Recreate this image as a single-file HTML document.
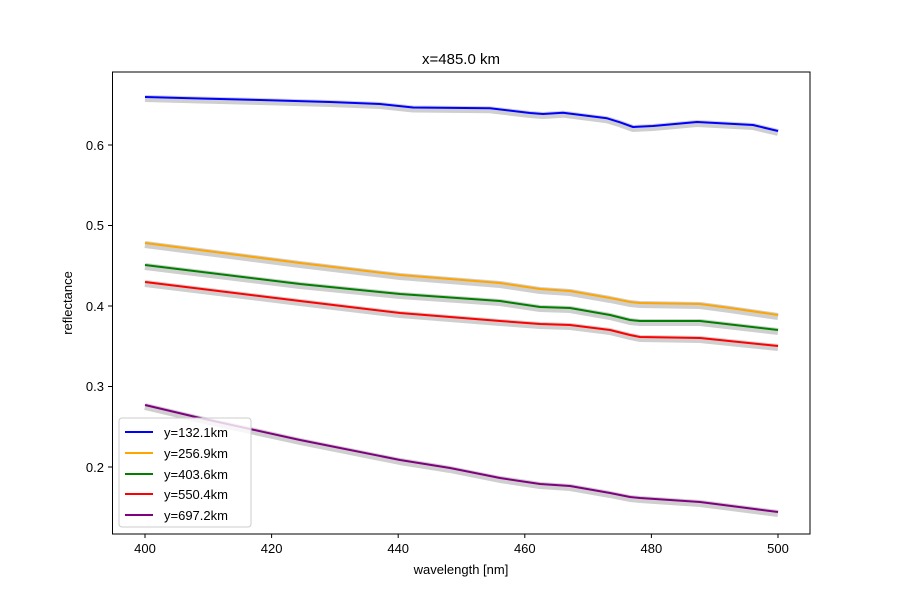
<!DOCTYPE html><html><head><style>body{margin:0;background:#fff}</style></head><body>
<svg width="900" height="600" xmlns="http://www.w3.org/2000/svg" font-family="Liberation Sans, DejaVu Sans, sans-serif">
<rect width="900" height="600" fill="#fff"/>
<g fill="none" stroke-linejoin="round">
<g stroke="#cfcfcf" stroke-width="7" transform="translate(0,1.5)">
<polyline points="145,97 200,98.5 260,100 330,102 380,104 413,107.5 490,108.3 530,113 543,114 563,112.7 607,118.3 620,122.3 633,127 653,126 697,122 753,125 778,131"/>
<polyline points="145,243 300,263 400,275 500,283 540,289 570,291 610,298 630,302 640,303 700,304 730,308 778,315"/>
<polyline points="145,265 300,284 400,294 500,301 540,307 570,308 610,315 630,320 640,321 700,321 778,330"/>
<polyline points="145,282 300,301 400,313 500,321 540,324 570,325 610,330 630,335 640,337 700,338 778,346"/>
<polyline points="145,405 200,418 300,440 400,460 450,468 500,478 540,484 570,486 610,493 630,497 640,498 700,502 778,512"/>
</g>
<g stroke-width="2">
<polyline stroke="#0000ff" points="145,97 200,98.5 260,100 330,102 380,104 413,107.5 490,108.3 530,113 543,114 563,112.7 607,118.3 620,122.3 633,127 653,126 697,122 753,125 778,131"/>
<polyline stroke="#ffa500" points="145,243 300,263 400,275 500,283 540,289 570,291 610,298 630,302 640,303 700,304 730,308 778,315"/>
<polyline stroke="#008000" points="145,265 300,284 400,294 500,301 540,307 570,308 610,315 630,320 640,321 700,321 778,330"/>
<polyline stroke="#ff0000" points="145,282 300,301 400,313 500,321 540,324 570,325 610,330 630,335 640,337 700,338 778,346"/>
<polyline stroke="#800080" points="145,405 200,418 300,440 400,460 450,468 500,478 540,484 570,486 610,493 630,497 640,498 700,502 778,512"/>
</g></g>
<rect x="112.5" y="72" width="697.5" height="462" fill="none" stroke="#000" stroke-width="1"/>
<g stroke="#000"><line x1="145" y1="534" x2="145" y2="538"/><line x1="271.6" y1="534" x2="271.6" y2="538"/><line x1="398.2" y1="534" x2="398.2" y2="538"/><line x1="524.8" y1="534" x2="524.8" y2="538"/><line x1="651.4" y1="534" x2="651.4" y2="538"/><line x1="778" y1="534" x2="778" y2="538"/>
<line x1="108" y1="145" x2="112.5" y2="145"/><line x1="108" y1="225.5" x2="112.5" y2="225.5"/><line x1="108" y1="306" x2="112.5" y2="306"/><line x1="108" y1="386.5" x2="112.5" y2="386.5"/><line x1="108" y1="467" x2="112.5" y2="467"/></g>
<g font-size="13" text-anchor="middle"><text x="145" y="553">400</text><text x="271.6" y="553">420</text><text x="398.2" y="553">440</text><text x="524.8" y="553">460</text><text x="651.4" y="553">480</text><text x="778" y="553">500</text>
<text x="461" y="574">wavelength [nm]</text><text x="461" y="64" font-size="15">x=485.0 km</text></g>
<g font-size="13" text-anchor="end"><text x="104" y="150">0.6</text><text x="104" y="230">0.5</text><text x="104" y="311">0.4</text><text x="104" y="391">0.3</text><text x="104" y="472">0.2</text></g>
<text transform="translate(72,303) rotate(-90)" font-size="13" text-anchor="middle">reflectance</text>
<rect x="119" y="418" width="132" height="109" rx="3" fill="#fff" fill-opacity="0.8" stroke="#ccc"/>
<g stroke-width="2"><line x1="125" y1="432" x2="153" y2="432" stroke="#0000ff"/><line x1="125" y1="453" x2="153" y2="453" stroke="#ffa500"/><line x1="125" y1="474" x2="153" y2="474" stroke="#008000"/><line x1="125" y1="494" x2="153" y2="494" stroke="#ff0000"/><line x1="125" y1="515" x2="153" y2="515" stroke="#800080"/></g>
<g font-size="13"><text x="164" y="437">y=132.1km</text><text x="164" y="458">y=256.9km</text><text x="164" y="479">y=403.6km</text><text x="164" y="499">y=550.4km</text><text x="164" y="520">y=697.2km</text></g>
</svg></body></html>
